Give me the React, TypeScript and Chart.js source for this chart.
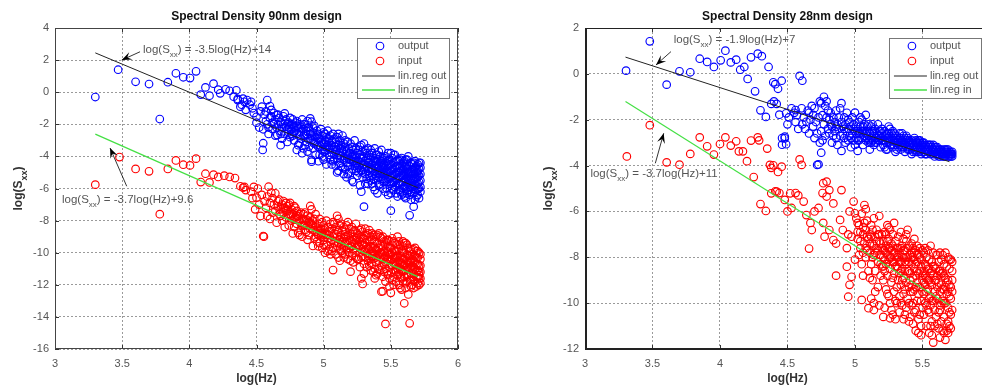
import React, { useEffect, useRef } from "react";
import { Chart, registerables } from "chart.js";
Chart.register(...registerables);

type P = [number, number];

const FONT = '"Liberation Sans", Arial, Helvetica, sans-serif';

const xTicks = [3, 3.5, 4, 4.5, 5, 5.5, 6];
const yTicks90 = [4, 2, 0, -2, -4, -6, -8, -10, -12, -14, -16];
const yTicks28 = [2, 0, -2, -4, -6, -8, -10, -12];
const legendLabels = ["output", "input", "lin.reg out", "lin.reg in"];
const titles = ["Spectral Density 90nm design", "Spectral Density 28nm design"];
const eqTexts90 = [") = -3.5log(Hz)+14", ") = -3.7log(Hz)+9.6"];
const eqTexts28 = [") = -1.9log(Hz)+7", ") = -3.7log(Hz)+11"];

const regX = [3.3, 5.7];
const regOut90Y = [2.45, -5.95];
const regIn90Y = [-2.61, -11.49];
const regOut28Y = [0.73, -3.83];
const regIn28Y = [-1.21, -10.09];

const output90: P[] = [
  [3.30,-0.30],[3.47,1.40],[3.60,0.65],[3.70,0.51],[3.84,0.62],[3.78,-1.67],[3.90,1.18],[3.955,0.93],[4.005,0.88],[4.05,1.30],
  [4.085,-0.15],[4.12,0.30],[4.15,-0.22],[4.18,0.53],[4.215,0.16],[4.23,-0.07],[4.27,0.18],[4.30,0.09],[4.35,0.12],[4.33,-0.28],
  [4.36,-0.42],[4.39,-0.78],[4.40,-0.40],[4.43,-0.49],[4.45,-0.78],[4.36,-0.49],[4.41,-0.6],[4.38,-0.9],[4.42,-1.1],
  [4.46,-0.6],[4.47,-1.0],[4.48,-1.3],[4.50,-1.53],[4.50,-1.9],[4.52,-2.2],[4.53,-1.2],[4.55,-2.31],[4.55,-3.18],[4.546,-3.6],[4.54,-0.9],
  [4.56,-1.4],[4.57,-1.8],[4.58,-0.49],[4.60,-0.86],[4.61,-1.1],[4.58,-2.0],[4.59,-2.6],[4.60,-1.6],[4.62,-1.9],[4.62,-2.3],[4.63,-1.3],[4.64,-2.7],[4.64,-1.7],[4.65,-1.42],[4.655,-2.67],
  [4.66,-2.0],[4.67,-1.6],[4.67,-2.4],[4.68,-1.85],[4.69,-2.2],[4.69,-2.9],[4.70,-1.5],[4.71,-1.32],[4.71,-2.6],[4.72,-2.15],[4.72,-1.7],[4.73,-2.3],[4.73,-3.1],[4.74,-1.9],[4.74,-2.5],[4.75,-1.6],[4.75,-2.8],[4.68,-3.3],
  [4.76,-2.0],[4.76,-2.3],[4.77,-1.7],[4.77,-2.7],[4.78,-2.1],[4.78,-3.0],[4.79,-1.9],[4.79,-2.4],[4.80,-2.6],[4.80,-1.8],[4.81,-2.2],[4.81,-3.3],[4.82,-3.2],[4.82,-2.0],[4.83,-2.5],[4.83,-2.9],[4.84,-3.8],[4.84,-1.7],[4.85,-2.3],[4.85,-3.5],[4.80,-3.6],[4.78,-2.5],
  [4.86,-2.7],[4.86,-2.0],[4.87,-3.1],[4.87,-2.4],[4.88,-2.9],[4.88,-1.8],[4.89,-3.4],[4.89,-2.2],[4.90,-1.63],[4.90,-2.6],[4.91,-1.84],[4.91,-4.33],[4.91,-4.22],[4.91,-3.0],[4.92,-2.5],[4.92,-3.5],[4.93,-2.1],[4.93,-3.2],[4.94,-2.8],[4.94,-3.9],[4.95,-2.4],[4.95,-3.3],[4.88,-3.7],[4.90,-2.9],[4.93,-2.7],[4.86,-3.3],
  [4.96,-2.6],[4.96,-3.4],[4.97,-2.9],[4.97,-3.9],[4.98,-2.3],[4.98,-3.1],[4.99,-3.6],[4.99,-2.7],[5.00,-3.2],[5.00,-4.2],[5.00,-2.5],[5.01,-3.0],[5.01,-3.7],[5.02,-2.8],[5.02,-4.5],[5.03,-3.3],[5.03,-2.4],[5.04,-3.9],[5.04,-3.1],[5.05,-2.7],[5.05,-3.5],[5.05,-4.2],[4.97,-3.3],[4.99,-4.0],[5.01,-2.6],[5.03,-3.6],[5.02,-3.4],[4.96,-4.3],[5.04,-2.9],[5.00,-3.7],
  [4.57,-1.2],[4.59,-2.2],[4.61,-1.5],[4.63,-2.0],[4.65,-2.2],[4.66,-1.4],[4.68,-2.6],[4.70,-2.0],[4.71,-1.8],[4.73,-2.0],[4.74,-2.2],[4.76,-2.6],[4.77,-2.0],[4.79,-2.2],[4.80,-2.1],[4.82,-2.7],[4.83,-2.2],[4.85,-2.0],[4.85,-2.7],[4.87,-2.6],[4.88,-2.2],[4.90,-2.4],[4.91,-2.7],[4.92,-2.2],[4.94,-3.1],[4.95,-2.7],[4.96,-2.9],[4.98,-3.4],[4.99,-3.2],[5.01,-3.4],[5.02,-3.1],[5.04,-3.5],[5.06,-3.3],[5.08,-4.2],[5.09,-3.4],[5.12,-4.1],
  [5.06,-3.0],[5.06,-3.8],[5.07,-2.6],[5.07,-4.3],[5.08,-3.4],[5.08,-3.9],[5.09,-3.1],[5.09,-4.6],[5.10,-3.6],[5.10,-2.8],[5.10,-4.1],[5.11,-3.3],[5.11,-4.9],[5.12,-3.8],[5.12,-3.0],[5.12,-4.4],[5.13,-3.5],[5.13,-4.0],[5.14,-2.7],[5.14,-3.7],[5.14,-4.7],[5.15,-3.2],[5.15,-4.2],[5.15,-5.1],[5.06,-4.5],[5.08,-2.9],[5.09,-3.7],[5.11,-3.9],[5.13,-3.3],[5.07,-3.6],[5.11,-2.6],[5.13,-4.6],[5.10,-5.0],[5.15,-3.6],[5.12,-3.5],
  [5.16,-3.4],[5.16,-4.1],[5.16,-4.8],[5.17,-3.7],[5.17,-4.4],[5.17,-5.3],[5.18,-3.1],[5.18,-3.9],[5.18,-4.6],[5.19,-3.5],[5.19,-4.2],[5.19,-5.0],[5.20,-3.8],[5.20,-4.5],[5.20,-3.2],[5.21,-4.0],[5.21,-4.8],[5.21,-5.5],[5.22,-3.6],[5.22,-4.3],[5.22,-5.6],[5.23,-3.9],[5.23,-4.6],[5.23,-3.0],[5.24,-4.1],[5.24,-4.9],[5.24,-3.5],[5.25,-4.4],[5.25,-3.8],[5.25,-5.2],[5.17,-4.0],[5.19,-3.8],[5.21,-3.4],[5.23,-4.3],[5.18,-5.1],[5.20,-4.2],[5.22,-4.0],[5.24,-4.5],[5.16,-3.0],[5.25,-4.7],
  [5.26,-3.6],[5.26,-4.3],[5.26,-5.0],[5.27,-3.9],[5.27,-4.7],[5.27,-5.8],[5.28,-3.3],[5.28,-4.1],[5.28,-4.9],[5.28,-6.2],[5.29,-3.7],[5.29,-4.5],[5.29,-5.3],[5.30,-4.0],[5.30,-4.8],[5.30,-3.2],[5.30,-7.13],[5.31,-4.3],[5.31,-5.1],[5.31,-5.7],[5.32,-3.8],[5.32,-4.6],[5.32,-5.4],[5.33,-4.1],[5.33,-4.9],[5.33,-3.5],[5.34,-4.4],[5.34,-5.2],[5.34,-3.9],[5.35,-4.7],[5.35,-5.5],[5.35,-4.2],[5.26,-4.6],[5.28,-4.4],[5.30,-4.5],[5.32,-4.2],[5.34,-4.8],[5.27,-3.4],[5.29,-5.0],[5.31,-3.6],[5.33,-5.7],[5.35,-3.6],[5.29,-4.1],[5.31,-4.7],[5.33,-4.4],
  [5.36,-3.8],[5.36,-4.5],[5.36,-5.2],[5.37,-4.1],[5.37,-4.9],[5.37,-5.9],[5.38,-3.5],[5.38,-4.3],[5.38,-5.1],[5.39,-3.9],[5.39,-4.7],[5.39,-5.5],[5.40,-4.2],[5.40,-5.0],[5.40,-6.3],[5.41,-3.7],[5.41,-4.5],[5.41,-5.3],[5.42,-4.0],[5.42,-4.8],[5.42,-5.7],[5.43,-4.3],[5.43,-5.1],[5.43,-3.6],[5.44,-4.6],[5.44,-5.4],[5.44,-6.0],[5.45,-4.1],[5.45,-4.9],[5.45,-5.6],[5.36,-4.8],[5.38,-4.6],[5.40,-4.6],[5.42,-4.4],[5.44,-5.0],[5.37,-4.4],[5.39,-5.2],[5.41,-4.9],[5.43,-4.7],[5.45,-5.2],[5.36,-5.7],[5.38,-6.1],[5.40,-3.9],[5.42,-5.1],[5.44,-4.2],[5.39,-4.3],[5.41,-5.8],[5.43,-5.5],[5.37,-5.4],[5.45,-4.5],
  [5.46,-4.0],[5.46,-4.7],[5.46,-5.5],[5.47,-4.3],[5.47,-5.1],[5.47,-6.0],[5.48,-3.8],[5.48,-4.6],[5.48,-5.4],[5.49,-4.2],[5.49,-4.9],[5.49,-5.7],[5.50,-4.5],[5.50,-5.3],[5.50,-6.3],[5.50,-7.38],[5.51,-4.1],[5.51,-4.8],[5.51,-5.6],[5.52,-4.4],[5.52,-5.2],[5.52,-6.1],[5.53,-3.9],[5.53,-4.7],[5.53,-5.5],[5.54,-4.3],[5.54,-5.0],[5.54,-5.8],[5.55,-4.6],[5.55,-5.4],[5.55,-6.5],[5.46,-5.0],[5.47,-4.8],[5.48,-5.0],[5.49,-5.3],[5.50,-4.9],[5.51,-5.2],[5.52,-4.8],[5.53,-5.1],[5.54,-4.6],[5.55,-5.0],[5.46,-6.2],[5.48,-6.4],[5.50,-3.8],[5.52,-3.9],[5.54,-6.3],[5.47,-5.6],[5.49,-4.5],[5.51,-6.0],[5.53,-5.9],[5.55,-4.2],[5.46,-4.4],[5.48,-4.3],[5.50,-5.7],[5.52,-5.6],[5.54,-5.4],
  [5.56,-4.3],[5.56,-5.0],[5.56,-5.7],[5.57,-4.6],[5.57,-5.3],[5.57,-6.2],[5.58,-4.1],[5.58,-4.9],[5.58,-5.6],[5.59,-4.4],[5.59,-5.2],[5.59,-6.0],[5.60,-4.7],[5.60,-5.5],[5.60,-6.5],[5.61,-4.2],[5.61,-5.0],[5.61,-5.8],[5.62,-4.5],[5.62,-5.3],[5.62,-6.3],[5.63,-4.8],[5.63,-5.6],[5.63,-4.0],[5.64,-5.1],[5.64,-5.9],[5.64,-7.67],[5.65,-4.4],[5.65,-5.4],[5.65,-6.7],[5.56,-5.3],[5.57,-4.9],[5.58,-5.2],[5.59,-4.8],[5.60,-5.1],[5.61,-5.4],[5.62,-4.9],[5.63,-5.2],[5.64,-4.6],[5.65,-5.0],[5.56,-6.1],[5.58,-6.4],[5.60,-4.3],[5.62,-5.7],[5.64,-6.4],[5.57,-5.8],[5.59,-5.6],[5.61,-6.6],[5.63,-6.1],[5.65,-5.8],[5.56,-4.7],[5.58,-4.5],[5.60,-5.9],[5.62,-4.2],[5.64,-5.5],[5.57,-4.2],[5.59,-6.3],[5.61,-4.6],[5.63,-5.0],[5.65,-6.2],
  [5.66,-4.5],[5.66,-5.2],[5.66,-5.9],[5.67,-4.8],[5.67,-5.5],[5.67,-7.13],[5.68,-4.3],[5.68,-5.1],[5.68,-5.8],[5.68,-6.7],[5.69,-4.6],[5.69,-5.4],[5.69,-6.1],[5.70,-4.9],[5.70,-5.7],[5.70,-6.4],[5.71,-4.4],[5.71,-5.2],[5.71,-6.0],[5.72,-4.7],[5.72,-5.5],[5.72,-6.2],[5.66,-5.5],[5.67,-5.1],[5.68,-5.4],[5.69,-5.0],[5.70,-5.3],[5.71,-5.6],[5.72,-5.1],[5.66,-6.3],[5.67,-6.0],[5.69,-5.8],[5.70,-4.5],[5.71,-4.8],[5.72,-5.9],[5.66,-4.9],[5.68,-6.2],[5.70,-6.0],[5.72,-4.4],[5.67,-4.4],[5.69,-6.5],[5.71,-6.6],[5.70,-5.0],[5.68,-4.7],[5.66,-5.7]
];

const input90: P[] = [
  [3.30,-5.76],[3.48,-4.04],[3.60,-4.78],[3.70,-4.93],[3.78,-7.6],[3.84,-4.78],[3.90,-4.25],[3.955,-4.52],[4.005,-4.56],[4.05,-4.14],
  [4.085,-5.6],[4.12,-5.08],[4.15,-5.62],[4.18,-5.14],[4.215,-5.28],[4.26,-5.2],[4.30,-5.28],[4.34,-5.35],[4.38,-5.86],[4.40,-5.95],[4.42,-6.1],[4.41,-5.9],
  [4.46,-6.2],[4.47,-6.6],[4.49,-7.3],[4.50,-6.57],[4.51,-6.0],[4.52,-7.0],[4.53,-7.71],[4.54,-6.4],[4.55,-8.96],[4.555,-9.0],[4.48,-5.9],
  [4.56,-6.8],[4.57,-7.2],[4.58,-7.71],[4.59,-5.89],[4.60,-6.9],[4.61,-6.26],[4.62,-7.5],[4.62,-6.6],[4.63,-7.0],[4.64,-7.4],[4.65,-8.13],[4.64,-6.3],[4.58,-6.5],[4.60,-7.9],
  [4.66,-7.1],[4.67,-6.7],[4.67,-7.6],[4.68,-7.3],[4.69,-8.0],[4.70,-6.78],[4.70,-7.5],[4.71,-7.2],[4.72,-6.9],[4.72,-7.8],[4.73,-7.4],[4.74,-8.3],[4.74,-7.0],[4.75,-7.6],[4.75,-6.9],[4.69,-7.0],[4.71,-8.4],[4.73,-7.1],
  [4.76,-7.3],[4.76,-8.0],[4.77,-7.6],[4.78,-8.4],[4.78,-7.1],[4.79,-7.8],[4.80,-8.2],[4.80,-7.4],[4.81,-8.75],[4.81,-7.7],[4.82,-8.0],[4.83,-7.5],[4.83,-8.6],[4.84,-9.0],[4.84,-7.9],[4.85,-8.3],[4.85,-7.6],[4.77,-8.8],[4.79,-7.2],[4.82,-8.9],[4.80,-7.9],[4.78,-7.5],
  [4.66,-6.8],[4.68,-7.7],[4.70,-7.2],[4.72,-7.3],[4.74,-7.6],[4.76,-7.7],[4.78,-7.9],[4.80,-7.7],[4.82,-7.6],[4.84,-8.3],[4.86,-8.3],[4.88,-8.0],[4.90,-8.1],[4.92,-8.3],[4.94,-8.7],[4.96,-8.5],[4.98,-8.8],[5.00,-8.9],
  [4.86,-8.0],[4.86,-7.5],[4.87,-7.92],[4.87,-8.7],[4.88,-8.3],[4.88,-7.7],[4.89,-8.9],[4.89,-8.1],[4.90,-7.09],[4.90,-8.5],[4.91,-7.3],[4.91,-8.2],[4.92,-9.58],[4.92,-8.6],[4.93,-7.9],[4.93,-9.1],[4.94,-8.4],[4.94,-7.6],[4.95,-8.8],[4.95,-9.3],[4.86,-8.6],[4.88,-9.2],[4.90,-7.8],[4.92,-8.0],[4.94,-9.0],
  [4.96,-8.2],[4.96,-8.9],[4.97,-7.9],[4.97,-9.4],[4.98,-8.5],[4.98,-9.0],[4.99,-8.1],[4.99,-9.7],[5.00,-8.6],[5.00,-8.3],[5.00,-9.2],[5.01,-10.0],[5.01,-8.8],[5.02,-8.0],[5.02,-9.5],[5.03,-8.4],[5.03,-9.1],[5.04,-8.7],[5.04,-9.8],[5.05,-8.2],[5.05,-9.3],[5.05,-10.1],[4.97,-8.6],[4.99,-8.8],[5.01,-8.5],[5.03,-9.9],[5.02,-8.9],[4.96,-9.6],[5.04,-8.9],[5.00,-9.5],
  [5.06,-8.5],[5.06,-9.2],[5.07,-8.1],[5.07,-9.7],[5.08,-8.8],[5.08,-9.4],[5.09,-8.4],[5.09,-10.1],[5.10,-7.7],[5.10,-9.0],[5.10,-9.6],[5.11,-8.7],[5.11,-10.3],[5.12,-9.2],[5.12,-8.3],[5.12,-9.8],[5.13,-8.9],[5.13,-9.5],[5.14,-8.6],[5.14,-10.0],[5.15,-9.1],[5.15,-8.4],[5.15,-9.7],[5.06,-9.9],[5.08,-8.2],[5.09,-9.3],[5.11,-9.4],[5.13,-8.2],[5.07,-9.0],[5.11,-7.9],[5.14,-9.3],[5.12,-10.5],[5.10,-8.6],[5.15,-10.3],[5.13,-9.9],[5.07,-11.08],
  [5.16,-8.7],[5.16,-9.4],[5.16,-10.1],[5.17,-8.3],[5.17,-9.0],[5.17,-9.8],[5.18,-8.9],[5.18,-10.4],[5.18,-9.5],[5.19,-8.5],[5.19,-9.2],[5.19,-10.0],[5.20,-8.8],[5.20,-9.6],[5.20,-11.18],[5.21,-8.4],[5.21,-9.3],[5.21,-10.2],[5.22,-9.0],[5.22,-9.8],[5.22,-10.6],[5.23,-8.6],[5.23,-9.4],[5.23,-10.0],[5.24,-9.1],[5.24,-9.7],[5.24,-8.2],[5.25,-9.5],[5.25,-10.4],[5.25,-8.8],[5.17,-9.3],[5.19,-9.7],[5.21,-9.6],[5.23,-9.2],[5.18,-8.1],[5.20,-10.5],[5.22,-8.7],[5.24,-10.3],[5.16,-9.0],[5.25,-9.1],
  [5.26,-8.9],[5.26,-9.6],[5.26,-10.4],[5.27,-8.6],[5.27,-9.3],[5.27,-10.9],[5.28,-9.0],[5.28,-9.8],[5.28,-11.6],[5.29,-8.7],[5.29,-9.5],[5.29,-10.2],[5.29,-11.95],[5.30,-9.1],[5.30,-9.9],[5.30,-10.7],[5.31,-8.5],[5.31,-9.4],[5.31,-10.3],[5.32,-9.2],[5.32,-10.0],[5.32,-10.9],[5.33,-8.8],[5.33,-9.7],[5.33,-10.5],[5.34,-9.3],[5.34,-10.1],[5.34,-8.6],[5.35,-9.6],[5.35,-10.4],[5.35,-11.1],[5.26,-9.2],[5.28,-10.3],[5.30,-9.5],[5.32,-9.6],[5.34,-9.8],[5.27,-10.0],[5.29,-9.1],[5.31,-9.8],[5.33,-10.2],[5.35,-9.0],[5.30,-11.3],[5.32,-8.9],[5.34,-10.8],[5.28,-8.5],
  [5.36,-9.2],[5.36,-9.9],[5.36,-10.7],[5.37,-8.9],[5.37,-9.6],[5.37,-10.4],[5.38,-9.3],[5.38,-10.1],[5.38,-11.0],[5.39,-9.0],[5.39,-9.8],[5.39,-10.6],[5.40,-9.4],[5.40,-10.2],[5.40,-11.3],[5.41,-8.8],[5.41,-9.7],[5.41,-10.5],[5.42,-9.5],[5.42,-10.3],[5.42,-11.1],[5.43,-9.1],[5.43,-10.0],[5.43,-12.43],[5.44,-9.6],[5.44,-10.4],[5.44,-11.5],[5.45,-9.9],[5.45,-10.7],[5.45,-9.3],[5.36,-10.2],[5.38,-9.7],[5.40,-9.9],[5.42,-10.0],[5.44,-10.1],[5.37,-11.2],[5.39,-10.3],[5.41,-11.0],[5.43,-10.8],[5.45,-11.2],[5.36,-8.8],[5.38,-11.6],[5.40,-8.9],[5.42,-9.0],[5.44,-9.0],[5.39,-11.4],[5.41,-10.1],[5.43,-9.6],[5.37,-10.0],[5.45,-10.3],[5.44,-12.4],
  [5.46,-9.5],[5.46,-10.2],[5.46,-11.0],[5.47,-9.2],[5.47,-9.9],[5.47,-10.7],[5.48,-9.6],[5.48,-10.4],[5.48,-11.4],[5.49,-9.3],[5.49,-10.1],[5.49,-10.9],[5.50,-9.7],[5.50,-10.5],[5.50,-12.5],[5.51,-9.1],[5.51,-10.0],[5.51,-10.8],[5.52,-9.8],[5.52,-10.6],[5.52,-11.5],[5.53,-9.4],[5.53,-10.3],[5.53,-11.1],[5.54,-9.9],[5.54,-10.7],[5.54,-11.8],[5.55,-10.2],[5.55,-11.0],[5.55,-9.5],[5.46,-14.44],[5.47,-11.3],[5.48,-10.0],[5.49,-11.6],[5.50,-11.2],[5.51,-11.7],[5.52,-10.2],[5.53,-9.9],[5.54,-10.3],[5.55,-11.4],[5.46,-10.6],[5.48,-9.2],[5.50,-10.1],[5.52,-9.3],[5.54,-11.2],[5.47,-10.4],[5.49,-9.7],[5.51,-10.4],[5.53,-10.7],[5.55,-10.6],[5.46,-11.8],[5.49,-12.1],[5.52,-12.0],[5.55,-9.0],
  [5.56,-9.8],[5.56,-10.5],[5.56,-11.3],[5.57,-9.5],[5.57,-10.2],[5.57,-11.0],[5.58,-9.9],[5.58,-10.7],[5.58,-11.6],[5.59,-9.6],[5.59,-10.4],[5.59,-11.2],[5.60,-10.0],[5.60,-10.8],[5.60,-13.15],[5.61,-9.4],[5.61,-10.3],[5.61,-11.1],[5.62,-10.1],[5.62,-10.9],[5.62,-11.8],[5.63,-9.7],[5.63,-10.6],[5.63,-12.6],[5.64,-10.2],[5.64,-11.0],[5.64,-14.4],[5.65,-10.5],[5.65,-11.3],[5.65,-9.8],[5.56,-12.0],[5.57,-11.5],[5.58,-10.3],[5.59,-10.0],[5.60,-11.5],[5.61,-11.9],[5.62,-10.5],[5.63,-11.4],[5.64,-10.6],[5.65,-12.1],[5.56,-9.3],[5.58,-12.3],[5.60,-9.4],[5.62,-9.5],[5.64,-11.7],[5.57,-10.6],[5.59,-11.8],[5.61,-10.7],[5.63,-11.0],[5.65,-10.9],[5.56,-10.9],[5.58,-11.1],[5.60,-10.4],[5.62,-11.4],[5.64,-9.9],[5.57,-12.2],[5.59,-9.3],[5.61,-12.2],[5.63,-10.2],[5.65,-11.7],
  [5.66,-10.1],[5.66,-10.8],[5.66,-11.5],[5.67,-9.8],[5.67,-10.5],[5.67,-11.3],[5.68,-10.2],[5.68,-11.0],[5.68,-11.8],[5.69,-9.9],[5.69,-10.7],[5.69,-11.5],[5.70,-10.3],[5.70,-11.1],[5.70,-11.9],[5.71,-10.0],[5.71,-10.8],[5.71,-11.6],[5.72,-10.4],[5.72,-11.2],[5.72,-11.9],[5.66,-11.1],[5.67,-10.9],[5.68,-10.6],[5.69,-11.2],[5.70,-10.7],[5.71,-11.2],[5.72,-10.8],[5.66,-12.0],[5.67,-11.7],[5.69,-12.1],[5.70,-9.9],[5.71,-12.0],[5.72,-10.1],[5.68,-9.7],[5.69,-10.3],[5.70,-11.5],[5.66,-10.4],[5.71,-11.4],[5.67,-12.2],[5.72,-11.6]
];

const output28: P[] = [
  [3.304,0.14],[3.48,1.42],[3.605,-0.47],[3.70,0.11],[3.78,0.07],[3.85,0.66],[3.905,0.52],[3.955,0.30],[4.005,0.59],[4.04,1.01],
  [4.08,0.50],[4.12,0.62],[4.15,0.18],[4.18,0.30],[4.205,-0.22],[4.23,0.72],[4.28,0.88],[4.26,-0.76],[4.31,0.77],[4.36,0.30],
  [4.30,-1.59],[4.34,-1.88],[4.395,-0.37],[4.43,-0.65],[4.38,-1.31],[4.42,-1.31],[4.457,-0.30],[4.44,-1.78],[4.46,-2.8],[4.46,-3.09],[4.40,-1.2],[4.41,-0.45],
  [4.48,-2.74],[4.49,-3.07],[4.50,-2.2],[4.48,-2.81],[4.51,-1.9],[4.53,-1.5],[4.55,-1.7],[4.56,-2.1],[4.57,-1.8],[4.59,-0.09],[4.61,-0.30],[4.58,-2.4],[4.49,-1.72],[4.56,-1.58],[4.605,-1.5],
  [4.62,-1.9],[4.63,-2.4],[4.64,-2.09],[4.65,-1.6],[4.66,-2.6],[4.67,-2.0],[4.68,-1.4],[4.69,-1.79],[4.69,-2.3],[4.70,-2.8],[4.61,-2.2],[4.66,-1.7],[4.70,-1.5],
  [4.71,-2.1],[4.72,-3.97],[4.73,-3.95],[4.73,-1.9],[4.74,-1.2],[4.75,-3.44],[4.75,-1.28],[4.75,-2.5],[4.76,-1.8],[4.77,-1.0],[4.77,-2.2],[4.78,-1.4],[4.78,-2.7],[4.79,-1.9],[4.80,-2.4],[4.80,-1.6],[4.72,-2.6],[4.76,-2.9],[4.79,-1.2],[4.74,-3.0],
  [4.81,-2.0],[4.81,-2.6],[4.82,-1.7],[4.83,-2.3],[4.83,-3.0],[4.84,-1.9],[4.85,-2.5],[4.85,-2.1],[4.86,-1.6],[4.86,-2.8],[4.87,-2.2],[4.88,-2.4],[4.88,-1.9],[4.89,-2.7],[4.90,-1.28],[4.90,-2.1],[4.90,-3.36],[4.89,-1.5],[4.87,-3.1],[4.84,-2.7],[4.82,-2.2],[4.86,-2.3],
  [4.91,-2.3],[4.91,-2.6],[4.92,-1.9],[4.92,-2.8],[4.93,-2.2],[4.93,-3.0],[4.94,-2.5],[4.94,-1.7],[4.95,-2.4],[4.95,-2.9],[4.96,-2.1],[4.96,-2.7],[4.97,-2.3],[4.97,-3.2],[4.98,-2.6],[4.98,-1.9],[4.99,-2.4],[4.99,-2.9],[5.00,-1.69],[5.00,-2.5],[5.00,-3.1],[4.92,-2.4],[4.95,-2.0],[4.97,-2.8],[4.99,-2.2],
  [5.01,-2.3],[5.01,-2.8],[5.02,-3.36],[5.02,-2.5],[5.03,-2.1],[5.03,-2.9],[5.04,-2.6],[5.04,-2.3],[5.05,-2.8],[5.05,-2.0],[5.06,-2.5],[5.06,-3.1],[5.07,-2.7],[5.07,-2.2],[5.08,-1.79],[5.08,-2.9],[5.09,-2.5],[5.09,-2.3],[5.10,-2.7],[5.10,-3.0],[5.01,-2.6],[5.03,-2.6],[5.05,-2.5],[5.07,-2.5],[5.09,-2.8],[5.04,-1.9],[5.06,-2.3],[5.08,-2.6],[5.10,-2.2],[5.02,-2.9],
  [5.11,-3.3],[5.11,-2.6],[5.12,-2.8],[5.12,-2.3],[5.13,-2.9],[5.13,-2.5],[5.14,-2.7],[5.14,-3.1],[5.15,-2.4],[5.15,-2.8],[5.16,-2.6],[5.16,-3.0],[5.17,-2.2],[5.17,-2.7],[5.18,-2.9],[5.18,-2.5],[5.19,-2.8],[5.19,-3.2],[5.20,-2.6],[5.20,-2.9],[5.12,-3.0],[5.14,-2.6],[5.16,-2.8],[5.18,-2.7],[5.20,-2.4],[5.13,-2.2],[5.15,-3.0],[5.17,-2.9],[5.19,-2.5],[5.11,-2.9],
  [5.21,-2.7],[5.21,-3.1],[5.22,-2.9],[5.22,-2.5],[5.23,-3.0],[5.23,-2.7],[5.24,-2.8],[5.24,-3.3],[5.25,-2.6],[5.25,-3.0],[5.26,-2.9],[5.26,-2.4],[5.27,-3.1],[5.27,-2.8],[5.28,-2.7],[5.28,-3.2],[5.29,-2.9],[5.29,-2.6],[5.30,-3.0],[5.30,-3.4],[5.22,-3.2],[5.24,-2.6],[5.26,-3.1],[5.28,-2.9],[5.30,-2.8],[5.21,-2.9],[5.23,-3.3],[5.25,-2.8],[5.27,-2.6],[5.29,-3.1],[5.25,-2.3],[5.28,-2.5],
  [5.31,-3.0],[5.31,-2.7],[5.32,-3.2],[5.32,-2.9],[5.33,-3.1],[5.33,-2.8],[5.34,-3.3],[5.34,-3.0],[5.35,-2.9],[5.35,-3.2],[5.36,-3.0],[5.36,-2.7],[5.37,-3.1],[5.37,-3.4],[5.38,-2.9],[5.38,-3.2],[5.39,-3.0],[5.39,-2.8],[5.40,-3.1],[5.40,-3.3],[5.31,-3.3],[5.33,-2.6],[5.35,-3.0],[5.37,-2.8],[5.39,-3.3],[5.32,-3.0],[5.34,-2.8],[5.36,-3.2],[5.38,-3.0],[5.40,-2.9],[5.35,-2.6],[5.38,-2.7],
  [5.41,-3.1],[5.41,-3.3],[5.42,-2.9],[5.42,-3.2],[5.43,-3.0],[5.43,-3.4],[5.44,-3.1],[5.44,-3.3],[5.45,-2.9],[5.45,-3.2],[5.46,-3.0],[5.46,-3.4],[5.47,-3.1],[5.47,-3.3],[5.48,-3.2],[5.48,-3.0],[5.49,-3.3],[5.49,-3.5],[5.50,-3.1],[5.50,-3.3],[5.41,-3.0],[5.43,-3.2],[5.45,-3.4],[5.47,-2.9],[5.49,-3.1],[5.42,-3.5],[5.44,-2.8],[5.46,-3.2],[5.48,-3.4],[5.50,-3.0],[5.45,-3.0],[5.48,-2.9],
  [5.51,-3.2],[5.51,-3.4],[5.52,-3.1],[5.52,-3.3],[5.53,-3.2],[5.53,-3.5],[5.54,-3.3],[5.54,-3.1],[5.55,-3.4],[5.55,-3.2],[5.56,-3.3],[5.56,-3.5],[5.57,-3.2],[5.57,-3.4],[5.58,-3.3],[5.58,-3.1],[5.59,-3.4],[5.59,-3.6],[5.60,-3.3],[5.60,-3.5],[5.51,-3.0],[5.53,-3.3],[5.55,-3.1],[5.57,-3.3],[5.59,-3.2],[5.52,-3.5],[5.54,-3.4],[5.56,-3.1],[5.58,-3.5],[5.60,-3.2],
  [5.61,-3.4],[5.61,-3.2],[5.62,-3.3],[5.62,-3.5],[5.63,-3.4],[5.63,-3.6],[5.64,-3.3],[5.64,-3.5],[5.65,-3.4],[5.65,-3.6],[5.66,-3.3],[5.66,-3.5],[5.67,-3.4],[5.67,-3.6],[5.68,-3.4],[5.68,-3.5],[5.69,-3.3],[5.69,-3.6],[5.70,-3.4],[5.70,-3.5],[5.71,-3.4],[5.71,-3.6],[5.72,-3.5],[5.72,-3.4],[5.61,-3.5],[5.63,-3.3],[5.65,-3.5],[5.67,-3.3],[5.69,-3.5],[5.71,-3.5],[5.62,-3.6],[5.64,-3.4],[5.66,-3.6],[5.68,-3.3],[5.70,-3.6],[5.72,-3.6]
];

const input28: P[] = [
  [3.31,-3.6],[3.48,-2.24],[3.605,-3.86],[3.70,-3.96],[3.78,-3.49],[3.85,-2.77],[3.905,-3.16],[3.955,-3.52],[4.0,-3.06],[4.04,-2.77],
  [4.08,-3.13],[4.12,-2.94],[4.14,-3.38],[4.17,-3.38],[4.20,-3.81],[4.23,-2.91],[4.28,-2.77],[4.29,-2.9],[4.35,-3.26],[4.25,-4.5],
  [4.395,-3.99],[4.43,-4.28],[4.30,-5.68],[4.41,-5.12],[4.37,-3.97],[4.38,-4.1],[4.457,-4.05],[4.34,-5.98],[4.38,-5.21],[4.42,-5.14],
  [4.44,-5.2],[4.48,-5.5],[4.50,-6.0],[4.52,-5.21],[4.56,-5.2],[4.58,-5.3],[4.62,-5.57],[4.53,-5.85],[4.59,-3.73],[4.605,-3.97],
  [4.64,-6.16],[4.68,-6.81],[4.66,-7.62],[4.67,-6.5],[4.70,-6.0],[4.73,-5.85],[4.765,-4.77],[4.79,-4.7],[4.76,-5.2],[4.81,-5.07],
  [4.84,-5.65],[4.79,-5.35],[4.765,-6.5],[4.81,-6.81],[4.775,-7.1],[4.84,-7.25],[4.86,-7.4],[4.89,-6.37],[4.91,-6.81],[4.95,-7.0],
  [4.94,-7.6],[4.975,-7.1],[4.90,-5.07],[4.96,-6.0],[4.99,-5.57],[5.0,-6.08],[5.02,-6.9],[5.07,-5.72],[5.08,-5.9],[4.94,-8.41],
  [4.86,-8.8],[4.975,-8.85],[4.96,-9.2],[4.95,-9.72],[5.05,-9.86],[5.10,-10.22],[5.14,-10.0],[5.21,-10.6],[5.26,-10.66],[5.0,-8.1],[5.06,-7.8],
  [5.01,-6.3],[5.02,-7.2],[5.03,-6.6],[5.04,-7.6],[5.05,-6.1],[5.05,-8.3],[5.06,-7.0],[5.07,-7.4],[5.08,-6.8],[5.08,-8.0],[5.09,-7.7],[5.09,-6.4],[5.10,-7.2],[5.10,-8.6],[5.03,-7.9],[5.06,-8.8],[5.07,-6.5],[5.04,-6.9],
  [5.02,-6.5],[5.04,-7.3],[5.06,-6.7],[5.08,-7.6],[5.09,-7.1],[5.11,-7.4],[5.12,-7.1],[5.13,-6.8],[5.14,-7.5],[5.15,-7.8],[5.16,-7.3],[5.17,-7.7],[5.18,-7.0],[5.19,-8.3],[5.20,-7.6],[5.21,-7.7],[5.22,-8.1],[5.23,-7.8],[5.24,-7.3],[5.25,-7.6],[5.26,-8.0],[5.27,-7.7],[5.28,-7.5],[5.29,-8.2],[5.30,-7.8],[5.31,-8.0],[5.32,-7.6],[5.33,-8.2],[5.34,-8.6],[5.35,-8.0],[5.36,-7.7],[5.37,-8.6],[5.38,-8.0],[5.39,-7.6],[5.40,-8.2],[5.42,-7.8],[5.44,-7.8],[5.46,-7.9],[5.43,-7.6],[5.45,-8.3],
  [5.11,-7.0],[5.11,-7.8],[5.12,-6.6],[5.12,-8.3],[5.13,-7.4],[5.13,-9.0],[5.14,-6.3],[5.14,-7.9],[5.15,-7.1],[5.15,-8.6],[5.16,-6.8],[5.16,-7.6],[5.17,-8.2],[5.17,-9.3],[5.18,-7.3],[5.18,-6.2],[5.19,-7.9],[5.19,-8.8],[5.20,-7.0],[5.20,-8.4],[5.12,-9.8],[5.15,-9.5],[5.18,-10.1],[5.14,-10.3],[5.11,-8.9],[5.17,-7.0],[5.19,-7.4],[5.13,-8.0],
  [5.21,-7.3],[5.21,-8.0],[5.21,-9.0],[5.22,-6.9],[5.22,-7.7],[5.22,-8.6],[5.23,-7.5],[5.23,-8.3],[5.23,-9.4],[5.24,-6.6],[5.24,-7.9],[5.24,-8.8],[5.25,-7.2],[5.25,-8.1],[5.25,-9.7],[5.26,-6.8],[5.26,-7.6],[5.26,-8.5],[5.27,-7.4],[5.27,-9.1],[5.27,-10.3],[5.28,-7.0],[5.28,-8.2],[5.28,-8.9],[5.29,-7.8],[5.29,-9.5],[5.29,-6.5],[5.30,-7.3],[5.30,-8.4],[5.30,-9.9],[5.22,-10.2],[5.26,-10.0],[5.28,-10.5],[5.24,-9.6],[5.30,-10.7],[5.25,-6.7],[5.23,-7.0],[5.27,-8.0],[5.29,-8.7],[5.21,-8.4],
  [5.31,-7.6],[5.31,-8.4],[5.31,-9.3],[5.32,-7.1],[5.32,-8.0],[5.32,-9.0],[5.33,-7.8],[5.33,-8.7],[5.33,-9.7],[5.34,-6.9],[5.34,-8.2],[5.34,-9.2],[5.35,-7.5],[5.35,-8.5],[5.35,-10.1],[5.36,-7.2],[5.36,-8.0],[5.36,-8.9],[5.37,-7.7],[5.37,-9.4],[5.37,-10.5],[5.38,-7.3],[5.38,-8.3],[5.38,-9.1],[5.39,-8.0],[5.39,-9.8],[5.39,-6.8],[5.40,-7.5],[5.40,-8.6],[5.40,-10.0],[5.31,-10.0],[5.33,-10.4],[5.36,-10.7],[5.38,-10.2],[5.40,-9.3],[5.32,-8.5],[5.34,-7.6],[5.35,-9.0],[5.37,-8.2],[5.39,-8.6],[5.36,-9.6],[5.34,-10.0],[5.38,-7.0],[5.40,-10.8],
  [5.41,-7.9],[5.41,-8.7],[5.41,-9.5],[5.42,-7.4],[5.42,-8.3],[5.42,-9.2],[5.43,-8.0],[5.43,-8.9],[5.43,-10.0],[5.44,-7.2],[5.44,-8.5],[5.44,-9.4],[5.45,-7.7],[5.45,-8.8],[5.45,-10.3],[5.46,-7.5],[5.46,-8.2],[5.46,-9.1],[5.47,-7.9],[5.47,-9.6],[5.47,-10.7],[5.48,-7.6],[5.48,-8.6],[5.48,-9.3],[5.49,-8.1],[5.49,-9.9],[5.49,-11.0],[5.50,-7.7],[5.50,-8.8],[5.50,-10.2],[5.41,-10.6],[5.43,-10.9],[5.45,-11.2],[5.47,-11.3],[5.49,-11.4],[5.42,-10.1],[5.44,-10.4],[5.46,-9.9],[5.48,-10.5],[5.50,-9.5],[5.42,-8.0],[5.44,-8.1],[5.46,-8.6],[5.48,-8.0],[5.50,-9.0],[5.41,-9.0],[5.43,-9.5],[5.45,-9.3],[5.47,-8.7],[5.49,-8.4],
  [5.51,-7.8],[5.51,-8.6],[5.51,-9.6],[5.52,-7.6],[5.52,-8.3],[5.52,-9.2],[5.53,-8.0],[5.53,-8.9],[5.53,-10.1],[5.54,-7.7],[5.54,-8.5],[5.54,-9.4],[5.55,-8.1],[5.55,-9.0],[5.55,-10.4],[5.56,-7.5],[5.56,-8.7],[5.56,-9.7],[5.57,-8.2],[5.57,-9.2],[5.57,-10.8],[5.58,-7.8],[5.58,-8.8],[5.58,-11.72],[5.59,-8.4],[5.59,-9.5],[5.59,-10.3],[5.60,-7.9],[5.60,-9.0],[5.60,-10.6],[5.51,-10.5],[5.53,-11.0],[5.55,-11.3],[5.57,-11.4],[5.59,-11.0],[5.52,-10.0],[5.54,-10.3],[5.56,-10.1],[5.58,-9.9],[5.60,-9.7],[5.52,-8.8],[5.54,-9.0],[5.56,-9.1],[5.58,-8.4],[5.60,-8.5],[5.51,-9.1],[5.53,-9.5],[5.55,-9.8],[5.57,-8.6],[5.59,-9.0],[5.55,-8.5],[5.57,-9.9],[5.53,-8.4],[5.56,-11.0],
  [5.61,-7.9],[5.61,-8.8],[5.61,-9.8],[5.62,-8.2],[5.62,-9.1],[5.62,-10.4],[5.63,-7.8],[5.63,-8.6],[5.63,-9.5],[5.64,-8.1],[5.64,-9.2],[5.64,-10.8],[5.65,-7.9],[5.65,-8.7],[5.65,-9.9],[5.66,-8.3],[5.66,-9.4],[5.66,-10.6],[5.67,-7.8],[5.67,-8.9],[5.67,-11.6],[5.68,-8.4],[5.68,-9.6],[5.68,-10.9],[5.69,-8.0],[5.69,-9.0],[5.69,-10.2],[5.70,-8.5],[5.70,-9.7],[5.70,-11.0],[5.71,-8.1],[5.71,-9.3],[5.71,-10.5],[5.72,-8.6],[5.72,-9.5],[5.72,-10.3],[5.61,-10.9],[5.62,-11.1],[5.63,-10.3],[5.64,-10.0],[5.65,-11.2],[5.66,-11.3],[5.68,-11.2],[5.69,-10.8],[5.70,-10.4],[5.71,-11.1],[5.72,-9.0],[5.61,-9.3],[5.62,-8.6],[5.63,-10.1],[5.64,-8.7],[5.65,-9.4],[5.66,-8.8],[5.67,-10.0],[5.68,-9.1],[5.69,-9.5],[5.70,-9.2],[5.71,-9.8],[5.72,-8.2],[5.67,-9.3],[5.69,-11.3],[5.63,-11.5],[5.66,-10.0],[5.70,-8.1]
];

type Ann = { text: [number, number]; tail: [number, number]; head: [number, number]; post: string };

type Cfg = {
  title: string;
  out: P[];
  inp: P[];
  regOutY: number[];
  regInY: number[];
  yMin: number;
  yMax: number;
  yTicks: number[];
  width: number;
  axisW: number;
  padRight: number;
  anns: Ann[];
  thickAxis: boolean;
};

const cfgs: Cfg[] = [
  {
    title: titles[0], out: output90, inp: input90, regOutY: regOut90Y, regInY: regIn90Y,
    yMin: -16, yMax: 4, yTicks: yTicks90, width: 491, axisW: 55, padRight: 33, thickAxis: false,
    anns: [
      { text: [3.655, 2.63], tail: [3.633, 2.52], head: [3.497, 2.0], post: eqTexts90[0] },
      { text: [3.052, -6.7], tail: [3.534, -5.86], head: [3.41, -3.48], post: eqTexts90[1] },
    ],
  },
  {
    title: titles[1], out: output28, inp: input28, regOutY: regOut28Y, regInY: regIn28Y,
    yMin: -12, yMax: 2, yTicks: yTicks28, width: 510, axisW: 94, padRight: 11, thickAxis: true,
    anns: [
      { text: [3.657, 1.48], tail: [3.637, 0.97], head: [3.526, 0.39], post: eqTexts28[0] },
      { text: [3.04, -4.37], tail: [3.521, -3.9], head: [3.583, -2.59], post: eqTexts28[1] },
    ],
  },
];

type Seg = { t: string; sub?: boolean };

function drawRich(ctx: CanvasRenderingContext2D, segs: Seg[], x: number, y: number, size: number, bold: boolean, center: boolean) {
  const f = (s: boolean) => `${bold ? "bold " : ""}${s ? Math.round(size * 0.72) : size}px ${FONT}`;
  let total = 0;
  for (const s of segs) {
    ctx.font = f(!!s.sub);
    total += ctx.measureText(s.t).width;
  }
  let cx = center ? x - total / 2 : x;
  ctx.textBaseline = "middle";
  ctx.textAlign = "left";
  for (const s of segs) {
    ctx.font = f(!!s.sub);
    ctx.fillText(s.t, cx, y + (s.sub ? size * 0.42 : 0));
    cx += ctx.measureText(s.t).width;
  }
}

function drawArrow(ctx: CanvasRenderingContext2D, x1: number, y1: number, x2: number, y2: number) {
  ctx.strokeStyle = "#000";
  ctx.fillStyle = "#000";
  ctx.lineWidth = 0.8;
  ctx.beginPath();
  ctx.moveTo(x1, y1);
  ctx.lineTo(x2, y2);
  ctx.stroke();
  const a = Math.atan2(y2 - y1, x2 - x1);
  const L = 10, W = 4;
  const c = Math.cos(a), s = Math.sin(a);
  const bx = x2 - L * c, by = y2 - L * s;
  const nx = x2 - L * 0.6 * c, ny = y2 - L * 0.6 * s;
  ctx.beginPath();
  ctx.moveTo(x2, y2);
  ctx.lineTo(bx - W * s, by + W * c);
  ctx.lineTo(nx, ny);
  ctx.lineTo(bx + W * s, by - W * c);
  ctx.closePath();
  ctx.fill();
}

function makeDecor(cfg: Cfg) {
  return {
    id: "matlabDecor",
    afterDraw(chart: any) {
      const { ctx, chartArea: a, scales } = chart;
      const xs = scales.x, ys = scales.y;
      ctx.save();
      ctx.strokeStyle = "#333";
      ctx.lineWidth = 1;
      ctx.beginPath();
      for (const v of xTicks) {
        const px = Math.round(xs.getPixelForValue(v)) + 0.5;
        ctx.moveTo(px, a.bottom);
        ctx.lineTo(px, a.bottom - 4);
        ctx.moveTo(px, a.top);
        ctx.lineTo(px, a.top + 4);
      }
      for (const v of cfg.yTicks) {
        const py = Math.round(ys.getPixelForValue(v)) + 0.5;
        ctx.moveTo(a.left, py);
        ctx.lineTo(a.left + 4, py);
        ctx.moveTo(a.right, py);
        ctx.lineTo(a.right - 4, py);
      }
      ctx.stroke();
      ctx.strokeStyle = cfg.thickAxis ? "#222" : "#444";
      ctx.lineWidth = 1;
      ctx.strokeRect(a.left + 0.5, a.top + 0.5, a.right - a.left - 1, a.bottom - a.top - 1);
      if (cfg.thickAxis) {
        ctx.lineWidth = 2;
        ctx.beginPath();
        ctx.moveTo(a.left + 1, a.top);
        ctx.lineTo(a.left + 1, a.bottom);
        ctx.lineTo(a.right, a.bottom);
        ctx.stroke();
      }

      for (const an of cfg.anns) {
        drawArrow(ctx, xs.getPixelForValue(an.tail[0]), ys.getPixelForValue(an.tail[1]), xs.getPixelForValue(an.head[0]), ys.getPixelForValue(an.head[1]));
        ctx.fillStyle = "#555";
        drawRich(ctx, [{ t: "log(S" }, { t: "xx", sub: true }, { t: an.post }], xs.getPixelForValue(an.text[0]), ys.getPixelForValue(an.text[1]), 11.5, false, false);
      }

      const lw = 92, lh = 60;
      const lx = a.right - 9 - lw, ly = a.top + 10;
      ctx.fillStyle = "#fff";
      ctx.fillRect(lx, ly, lw, lh);
      ctx.strokeStyle = "#777";
      ctx.lineWidth = 1;
      ctx.strokeRect(Math.round(lx) + 0.5, Math.round(ly) + 0.5, lw, lh);
      const rows = [8, 23, 38, 52];
      rows.forEach((dy, i) => {
        const cy = ly + dy;
        if (i < 2) {
          ctx.strokeStyle = i === 0 ? "rgb(0,0,255)" : "rgb(255,0,0)";
          ctx.lineWidth = 1.1;
          ctx.beginPath();
          ctx.arc(lx + 23, cy, 3.8, 0, Math.PI * 2);
          ctx.stroke();
        } else {
          ctx.strokeStyle = i === 2 ? "#222" : "#44e044";
          ctx.lineWidth = i === 2 ? 1 : 1.5;
          ctx.beginPath();
          ctx.moveTo(lx + 5, cy);
          ctx.lineTo(lx + 38, cy);
          ctx.stroke();
        }
        ctx.fillStyle = "#555";
        ctx.font = `11px ${FONT}`;
        ctx.textAlign = "left";
        ctx.textBaseline = "middle";
        ctx.fillText(legendLabels[i], lx + 41, cy);
      });

      const cx = (a.left + a.right) / 2;
      ctx.fillStyle = "#111";
      ctx.font = `bold 12px ${FONT}`;
      ctx.textAlign = "center";
      ctx.textBaseline = "middle";
      ctx.fillText(cfg.title, cx, 17);
      ctx.fillStyle = "#333";
      ctx.fillText("log(Hz)", cx, 379);
      ctx.save();
      ctx.translate(a.left - 36, (a.top + a.bottom) / 2);
      ctx.rotate(-Math.PI / 2);
      drawRich(ctx, [{ t: "log(S" }, { t: "xx", sub: true }, { t: ")" }], 0, 0, 12, true, true);
      ctx.restore();
      ctx.restore();
    },
  };
}

function SDChart({ cfg }: { cfg: Cfg }) {
  const ref = useRef<HTMLCanvasElement | null>(null);
  useEffect(() => {
    if (!ref.current) return;
    const toPts = (arr: P[]) => arr.map(([x, y]) => ({ x, y }));
    const fmt = (v: any) => String(Math.round(Number(v) * 10) / 10);
    const chart = new Chart(ref.current, {
      type: "scatter",
      data: {
        datasets: [
          {
            type: "line",
            label: legendLabels[2],
            data: regX.map((x, i) => ({ x, y: cfg.regOutY[i] })),
            borderColor: "#222",
            borderWidth: 1,
            pointRadius: 0,
            fill: false,
            order: 0,
          } as any,
          {
            type: "line",
            label: legendLabels[3],
            data: regX.map((x, i) => ({ x, y: cfg.regInY[i] })),
            borderColor: "#44e044",
            borderWidth: 1.2,
            pointRadius: 0,
            fill: false,
            order: 0,
          } as any,
          {
            label: legendLabels[1],
            data: toPts(cfg.inp),
            pointStyle: "circle",
            pointRadius: 3.8,
            pointBorderWidth: 1.15,
            borderColor: "rgb(255,0,0)",
            pointBorderColor: "rgb(255,0,0)",
            backgroundColor: "rgba(0,0,0,0)",
            pointBackgroundColor: "rgba(0,0,0,0)",
            order: 1,
          } as any,
          {
            label: legendLabels[0],
            data: toPts(cfg.out),
            pointStyle: "circle",
            pointRadius: 3.8,
            pointBorderWidth: 1.15,
            borderColor: "rgb(0,0,255)",
            pointBorderColor: "rgb(0,0,255)",
            backgroundColor: "rgba(0,0,0,0)",
            pointBackgroundColor: "rgba(0,0,0,0)",
            order: 2,
          } as any,
        ],
      },
      options: {
        responsive: false,
        animation: false,
        devicePixelRatio: 1,
        layout: { padding: { left: 0, top: 28, right: cfg.padRight, bottom: 0 }, autoPadding: false } as any,
        plugins: { legend: { display: false }, tooltip: { enabled: false }, title: { display: false } },
        scales: {
          x: {
            type: "linear",
            min: 3,
            max: 6,
            ticks: { stepSize: 0.5, color: "#555", font: { size: 11, family: FONT }, padding: 8, maxRotation: 0, autoSkip: false, callback: fmt },
            grid: { color: "#9a9a9a", lineWidth: 1, drawTicks: false },
            border: { display: false, dash: [2, 2] },
            afterFit: (s: any) => { s.height = 43; },
          },
          y: {
            type: "linear",
            min: cfg.yMin,
            max: cfg.yMax,
            ticks: { stepSize: 2, color: "#555", font: { size: 11, family: FONT }, padding: 6, autoSkip: false, callback: fmt },
            grid: { color: "#9a9a9a", lineWidth: 1, drawTicks: false },
            border: { display: false, dash: [2, 2] },
            afterFit: (s: any) => { s.width = cfg.axisW; },
          },
        },
      } as any,
      plugins: [makeDecor(cfg) as any],
    });
    return () => chart.destroy();
  }, [cfg]);
  return <canvas ref={ref} width={cfg.width} height={392} style={{ display: "block", width: cfg.width, height: 392 }} />;
}

export default function App() {
  return (
    <div style={{ position: "fixed", left: 0, top: 0, width: 982, height: 392, overflow: "hidden", background: "#fff" }}>
      <div style={{ position: "absolute", left: 0, top: 0 }}>
        <SDChart cfg={cfgs[0]} />
      </div>
      <div style={{ position: "absolute", left: 491, top: 0 }}>
        <SDChart cfg={cfgs[1]} />
      </div>
    </div>
  );
}
